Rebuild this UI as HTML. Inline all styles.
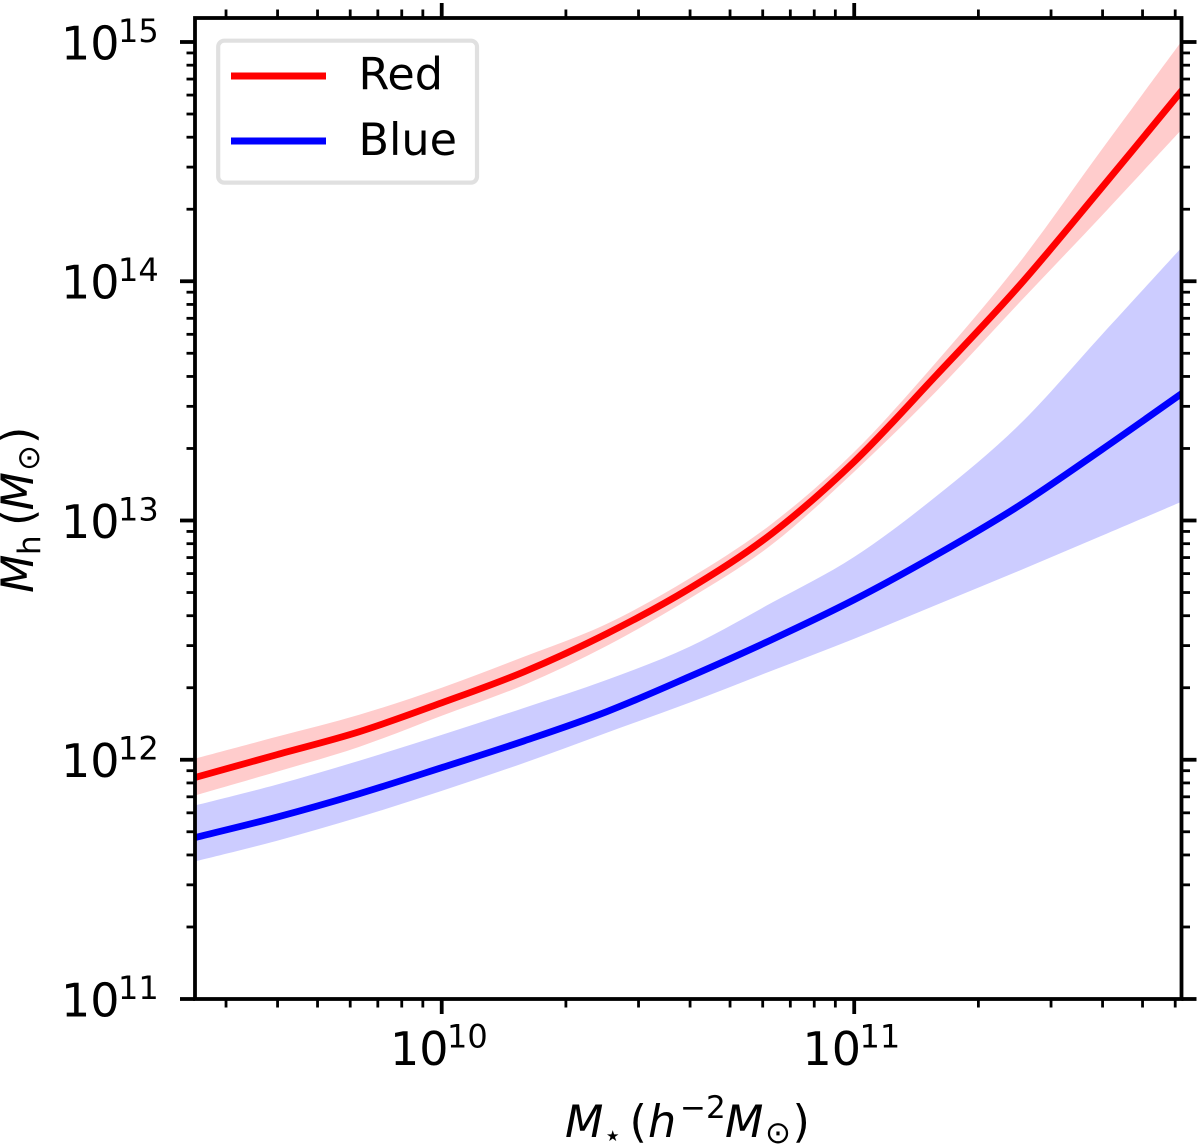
<!DOCTYPE html>
<html>
<head>
<meta charset="utf-8">
<title>Stellar to halo mass relation</title>
<style>
html,body{margin:0;padding:0;background:#fff;}
svg{display:block;}
text{font-family:"DejaVu Sans","Liberation Sans",sans-serif;fill:#000;}
</style>
</head>
<body>
<svg id="chart" xmlns="http://www.w3.org/2000/svg" width="1200" height="1144" viewBox="0 0 1200 1144">
  <defs><clipPath id="plot-clip"><rect x="195" y="18" width="986.5" height="981"/></clipPath></defs>
  <rect x="0" y="0" width="1200" height="1144" fill="#fff"/>
  <g id="series" clip-path="url(#plot-clip)"></g>
  <g id="ticks"></g>
  <rect x="195" y="18" width="986.5" height="981" fill="none" stroke="#000" stroke-width="3.8"/>
  <g id="ticklabels"></g>

  <g>
    <text x="565" y="1137" font-size="44.5" font-style="italic">M</text>
    <text x="606" y="1141" font-size="15">★</text>
    <text x="629.5" y="1137" font-size="44.5">(</text>
    <text x="648" y="1137" font-size="44.5" font-style="italic">h</text>
    <text x="680" y="1118" font-size="31">−2</text>
    <text x="725" y="1137" font-size="44.5" font-style="italic">M</text>
    <text x="765" y="1143" font-size="31">⊙</text>
    <text x="792.5" y="1137" font-size="44.5">)</text>
  </g>
  <g transform="translate(33,593) rotate(-90)">
    <text x="0" y="0" font-size="44.5" font-style="italic">M</text>
    <text x="38" y="7" font-size="31">h</text>
    <text x="67" y="0" font-size="44.5">(</text>
    <text x="82.5" y="0" font-size="44.5" font-style="italic">M</text>
    <text x="122" y="6" font-size="31">⊙</text>
    <text x="149" y="0" font-size="44.5">)</text>
  </g>

  <g>
    <rect x="218.2" y="40.7" width="258.8" height="141.9" rx="6" ry="6" fill="#fff" stroke="#e0e0e0" stroke-width="4.2"/>
    <line x1="231" y1="76" x2="326" y2="76" stroke="#ff0000" stroke-width="7"/>
    <text x="358.5" y="89.3" font-size="44.5">Red</text>
    <line x1="231" y1="141" x2="326" y2="141" stroke="#0000ff" stroke-width="7"/>
    <text x="358.5" y="155" font-size="44.5">Blue</text>
  </g>
</svg>
<script>
// Chart data: log10 of stellar mass and halo mass
const logMstar   = [9.4, 9.6, 9.8, 10.0, 10.2, 10.4, 10.6, 10.8, 11.0, 11.2, 11.4, 11.6, 11.8];
const redMedian  = [11.925, 12.021, 12.117, 12.238, 12.368, 12.527, 12.715, 12.945, 13.246, 13.609, 13.981, 14.391, 14.809];
const redUpper   = [12.004, 12.096, 12.188, 12.301, 12.431, 12.568, 12.757, 12.986, 13.287, 13.664, 14.077, 14.550, 15.018];
const redLower   = [11.850, 11.950, 12.054, 12.184, 12.313, 12.476, 12.673, 12.899, 13.204, 13.542, 13.910, 14.274, 14.646];
const blueMedian = [11.674, 11.760, 11.858, 11.967, 12.079, 12.201, 12.347, 12.502, 12.669, 12.857, 13.062, 13.296, 13.538];
const blueUpper  = [11.808, 11.896, 11.996, 12.104, 12.217, 12.334, 12.472, 12.656, 12.848, 13.103, 13.400, 13.776, 14.153];
const blueLower  = [11.574, 11.661, 11.760, 11.870, 11.987, 12.113, 12.238, 12.372, 12.506, 12.648, 12.790, 12.936, 13.083];
const xTickExponents = [10, 11];
const yTickExponents = [11, 12, 13, 14, 15];
const xMinorDecades = [9, 10, 11];
const yMinorDecades = [11, 12, 13, 14];
const minorMultipliers = [2, 3, 4, 5, 6, 7, 8, 9];

const X_LEFT = 195, X_RIGHT = 1181.5, Y_TOP = 18, Y_BOTTOM = 999;
const X_MIN = 9.4019, X_MAX = 11.7934, Y_MIN = 11, Y_MAX = 15.1003;
function xScale(v) { return X_LEFT + (v - X_MIN) / (X_MAX - X_MIN) * (X_RIGHT - X_LEFT); }
function yScale(v) { return Y_BOTTOM - (v - Y_MIN) / (Y_MAX - Y_MIN) * (Y_BOTTOM - Y_TOP); }

const NS = 'http://www.w3.org/2000/svg';
function make(tag, attrs, parent) {
  const el = document.createElementNS(NS, tag);
  for (const k in attrs) el.setAttribute(k, attrs[k]);
  parent.appendChild(el);
  return el;
}
function toPixels(vals) {
  return vals.map(function (v, i) { return [xScale(logMstar[i]), yScale(v)]; });
}
// Smooth curve segments through the pixel points
function curveSegments(p) {
  let d = '';
  for (let i = 0; i < p.length - 1; i++) {
    const a = p[Math.max(i - 1, 0)], b = p[i], c = p[i + 1], e = p[Math.min(i + 2, p.length - 1)];
    const c1x = b[0] + (c[0] - a[0]) / 6, c1y = b[1] + (c[1] - a[1]) / 6;
    const c2x = c[0] - (e[0] - b[0]) / 6, c2y = c[1] - (e[1] - b[1]) / 6;
    d += ' C' + c1x.toFixed(2) + ',' + c1y.toFixed(2) + ' ' + c2x.toFixed(2) + ',' + c2y.toFixed(2) + ' ' + c[0].toFixed(2) + ',' + c[1].toFixed(2);
  }
  return d;
}
function linePath(vals) {
  const p = toPixels(vals);
  return 'M' + p[0][0].toFixed(2) + ',' + p[0][1].toFixed(2) + curveSegments(p);
}
function bandPath(up, low) {
  const u = toPixels(up), l = toPixels(low).reverse();
  return 'M' + u[0][0].toFixed(2) + ',' + u[0][1].toFixed(2) + curveSegments(u) +
    ' L' + l[0][0].toFixed(2) + ',' + l[0][1].toFixed(2) + curveSegments(l) + ' Z';
}

const series = document.getElementById('series');
const ticks = document.getElementById('ticks');
const labels = document.getElementById('ticklabels');

const redBand = make('path', { d: bandPath(redUpper, redLower), fill: '#ffcccc' }, series);


const blueBand = make('path', { d: bandPath(blueUpper, blueLower), fill: '#ccccff' }, series);


const redLine = make('path', { d: linePath(redMedian), fill: 'none', stroke: '#ff0000', 'stroke-width': 6.8, 'stroke-linejoin': 'round' }, series);


const blueLine = make('path', { d: linePath(blueMedian), fill: 'none', stroke: '#0000ff', 'stroke-width': 6.8, 'stroke-linejoin': 'round' }, series);



function xTick(v, len, w) {
  const x = xScale(v);
  const b = make('line', { x1: x, x2: x, y1: Y_BOTTOM, y2: Y_BOTTOM + len, stroke: '#000', 'stroke-width': w }, ticks);
  
  
  const t = make('line', { x1: x, x2: x, y1: Y_TOP, y2: Y_TOP - len, stroke: '#000', 'stroke-width': w }, ticks);
  
  
}
function yTick(v, len, w) {
  const y = yScale(v);
  const l = make('line', { x1: X_LEFT, x2: X_LEFT - len, y1: y, y2: y, stroke: '#000', 'stroke-width': w }, ticks);
  
  
  const r = make('line', { x1: X_RIGHT, x2: X_RIGHT + len, y1: y, y2: y, stroke: '#000', 'stroke-width': w }, ticks);
  
  
}
xMinorDecades.forEach(function (d) {
  minorMultipliers.forEach(function (m) {
    const v = d + Math.log10(m);
    if (v > X_MIN && v < X_MAX) xTick(v, 8.5, 2.8);
  });
});
yMinorDecades.forEach(function (d) {
  minorMultipliers.forEach(function (m) { yTick(d + Math.log10(m), 8.5, 2.8); });
});
xTickExponents.forEach(function (e) { xTick(e, 15, 3.8); });
yTickExponents.forEach(function (e) { yTick(e, 15, 3.8); });

function powerLabel(x, y, exp, name) {
  const g = make('g', {}, labels);
  
  
  make('text', { x: x, y: y, 'font-size': 46 }, g).textContent = '10';
  make('text', { x: x + 57, y: y - 17.5, 'font-size': 32 }, g).textContent = String(exp);
}
xTickExponents.forEach(function (e) {
  powerLabel(xScale(e) - 51.7, 1065, e, 'x-tick-label');
});
yTickExponents.forEach(function (e) {
  powerLabel(61, yScale(e) + 17.5, e, 'y-tick-label');
});
</script>
</body>
</html>
